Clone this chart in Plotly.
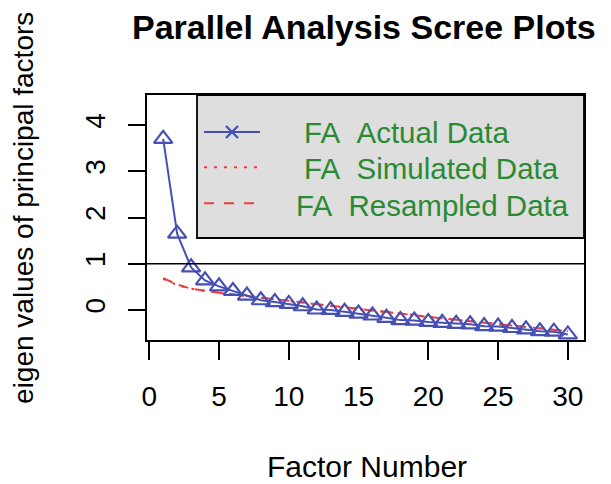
import plotly.graph_objects as go

factors = list(range(1, 31))
actual = [3.70, 1.65, 0.92, 0.64, 0.51, 0.41, 0.31, 0.21, 0.17, 0.13,
          0.08, 0.01, 0.00, -0.04, -0.08, -0.12, -0.17, -0.22, -0.23, -0.26,
          -0.28, -0.30, -0.31, -0.35, -0.36, -0.39, -0.42, -0.46, -0.47, -0.53]
simulated = [0.67, 0.54, 0.46, 0.41, 0.37, 0.33, 0.30, 0.26, 0.23, 0.19,
             0.16, 0.12, 0.09, 0.05, 0.02, -0.01, -0.05, -0.08, -0.11, -0.15,
             -0.18, -0.21, -0.24, -0.27, -0.30, -0.33, -0.37, -0.40, -0.43, -0.46]
resampled = [0.69, 0.55, 0.46, 0.41, 0.37, 0.34, 0.30, 0.27, 0.23, 0.20,
             0.16, 0.12, 0.09, 0.06, 0.02, -0.01, -0.04, -0.08, -0.11, -0.15,
             -0.18, -0.21, -0.24, -0.27, -0.30, -0.33, -0.36, -0.40, -0.43, -0.46]
x_ticks = [0, 5, 10, 15, 20, 25, 30]
y_ticks = [0, 1, 2, 3, 4]
legend_labels = ["FA&nbsp;&nbsp;Actual Data", "FA&nbsp;&nbsp;Simulated Data",
                 "FA&nbsp;&nbsp;Resampled Data"]

BLUE = "#4650b4"
RED = "#f03c3c"
GREEN = "#2a8a34"
FONT = "Liberation Sans, Arial, sans-serif"

fig = go.Figure()
fig.add_trace(go.Scatter(x=factors, y=simulated, mode="lines",
                         line=dict(color=RED, width=2, dash="3px,7px"),
                         showlegend=False))
fig.add_trace(go.Scatter(x=factors, y=resampled, mode="lines",
                         line=dict(color=RED, width=2, dash="10px,7px"),
                         showlegend=False))
fig.add_trace(go.Scatter(x=factors, y=actual, mode="lines+markers",
                         line=dict(color=BLUE, width=2),
                         marker=dict(symbol="triangle-up-open", size=16,
                                     color=BLUE, line=dict(color=BLUE, width=2.2)),
                         showlegend=False))

shapes = []
# horizontal reference line at eigenvalue 1
shapes.append(dict(type="line", xref="paper", yref="y", x0=0, x1=1, y0=1, y1=1,
                   line=dict(color="black", width=1.6)))
# legend box
shapes.append(dict(type="rect", xref="paper", yref="paper", x0=0.1144, x1=1.0,
                   y0=0.4163, y1=1.0, fillcolor="#dedede",
                   line=dict(color="black", width=1.8), layer="below"))
# legend samples
shapes.append(dict(type="line", xref="paper", yref="paper", x0=0.1304, x1=0.2586,
                   y0=0.849, y1=0.849, line=dict(color=BLUE, width=2.2)))
shapes.append(dict(type="path", xref="paper", yref="paper",
                   path="M 0.1808,0.8735 L 0.2082,0.8245 M 0.1808,0.8245 L 0.2082,0.8735",
                   line=dict(color=BLUE, width=2.2)))
shapes.append(dict(type="line", xref="paper", yref="paper", x0=0.1304, x1=0.2563,
                   y0=0.705, y1=0.705, line=dict(color=RED, width=2, dash="3px,7px")))
shapes.append(dict(type="line", xref="paper", yref="paper", x0=0.1304, x1=0.2563,
                   y0=0.558, y1=0.558, line=dict(color=RED, width=2, dash="10px,10px")))

annotations = []
for lab, xx, yy in zip(legend_labels, [0.3547, 0.3547, 0.3364], [0.845, 0.702, 0.551]):
    annotations.append(dict(text=lab, xref="paper", yref="paper", x=xx, y=yy,
                            xanchor="left", yanchor="middle", showarrow=False,
                            font=dict(family=FONT, size=29.5, color=GREEN)))
annotations.append(dict(text="<b>Parallel Analysis Scree Plots</b>", xref="paper",
                        yref="paper", x=0.4966, y=1.278, xanchor="center",
                        yanchor="middle", showarrow=False,
                        font=dict(family=FONT, size=34, color="black")))
annotations.append(dict(text="eigen values of principal factors", xref="paper",
                        yref="paper", x=-0.2815, y=0.539, xanchor="center",
                        yanchor="middle", textangle=-90, showarrow=False,
                        font=dict(family=FONT, size=28, color="black")))
annotations.append(dict(text="Factor Number", xref="paper", yref="paper",
                        x=0.503, y=-0.518, xanchor="center", yanchor="middle",
                        showarrow=False, font=dict(family=FONT, size=30, color="black")))

# the page body has an 8px margin, so the figure is sized/offset to compensate
fig.update_layout(
    width=603, height=476,
    margin=dict(l=139, r=27, t=87, b=144),
    paper_bgcolor="white", plot_bgcolor="white",
    font=dict(family=FONT, size=27, color="black"),
    shapes=shapes, annotations=annotations, showlegend=False,
)
fig.update_xaxes(range=[-0.16, 31.16], tickvals=x_ticks,
                 ticktext=[str(v) for v in x_ticks],
                 ticks="outside", ticklen=18, tickwidth=2, tickcolor="black",
                 ticklabelstandoff=12,
                 showline=True, linecolor="black", linewidth=2, mirror=True,
                 showgrid=False, zeroline=False,
                 tickfont=dict(family=FONT, size=28, color="black"))
fig.update_yaxes(range=[-0.65, 4.65], tickvals=y_ticks,
                 ticktext=[str(v) for v in y_ticks],
                 ticks="outside", ticklen=17, tickwidth=2, tickcolor="black",
                 tickangle=-90, ticklabelstandoff=12,
                 showline=True, linecolor="black", linewidth=2, mirror=True,
                 showgrid=False, zeroline=False,
                 tickfont=dict(family=FONT, size=28, color="black"))

fig.write_html("out.html")
